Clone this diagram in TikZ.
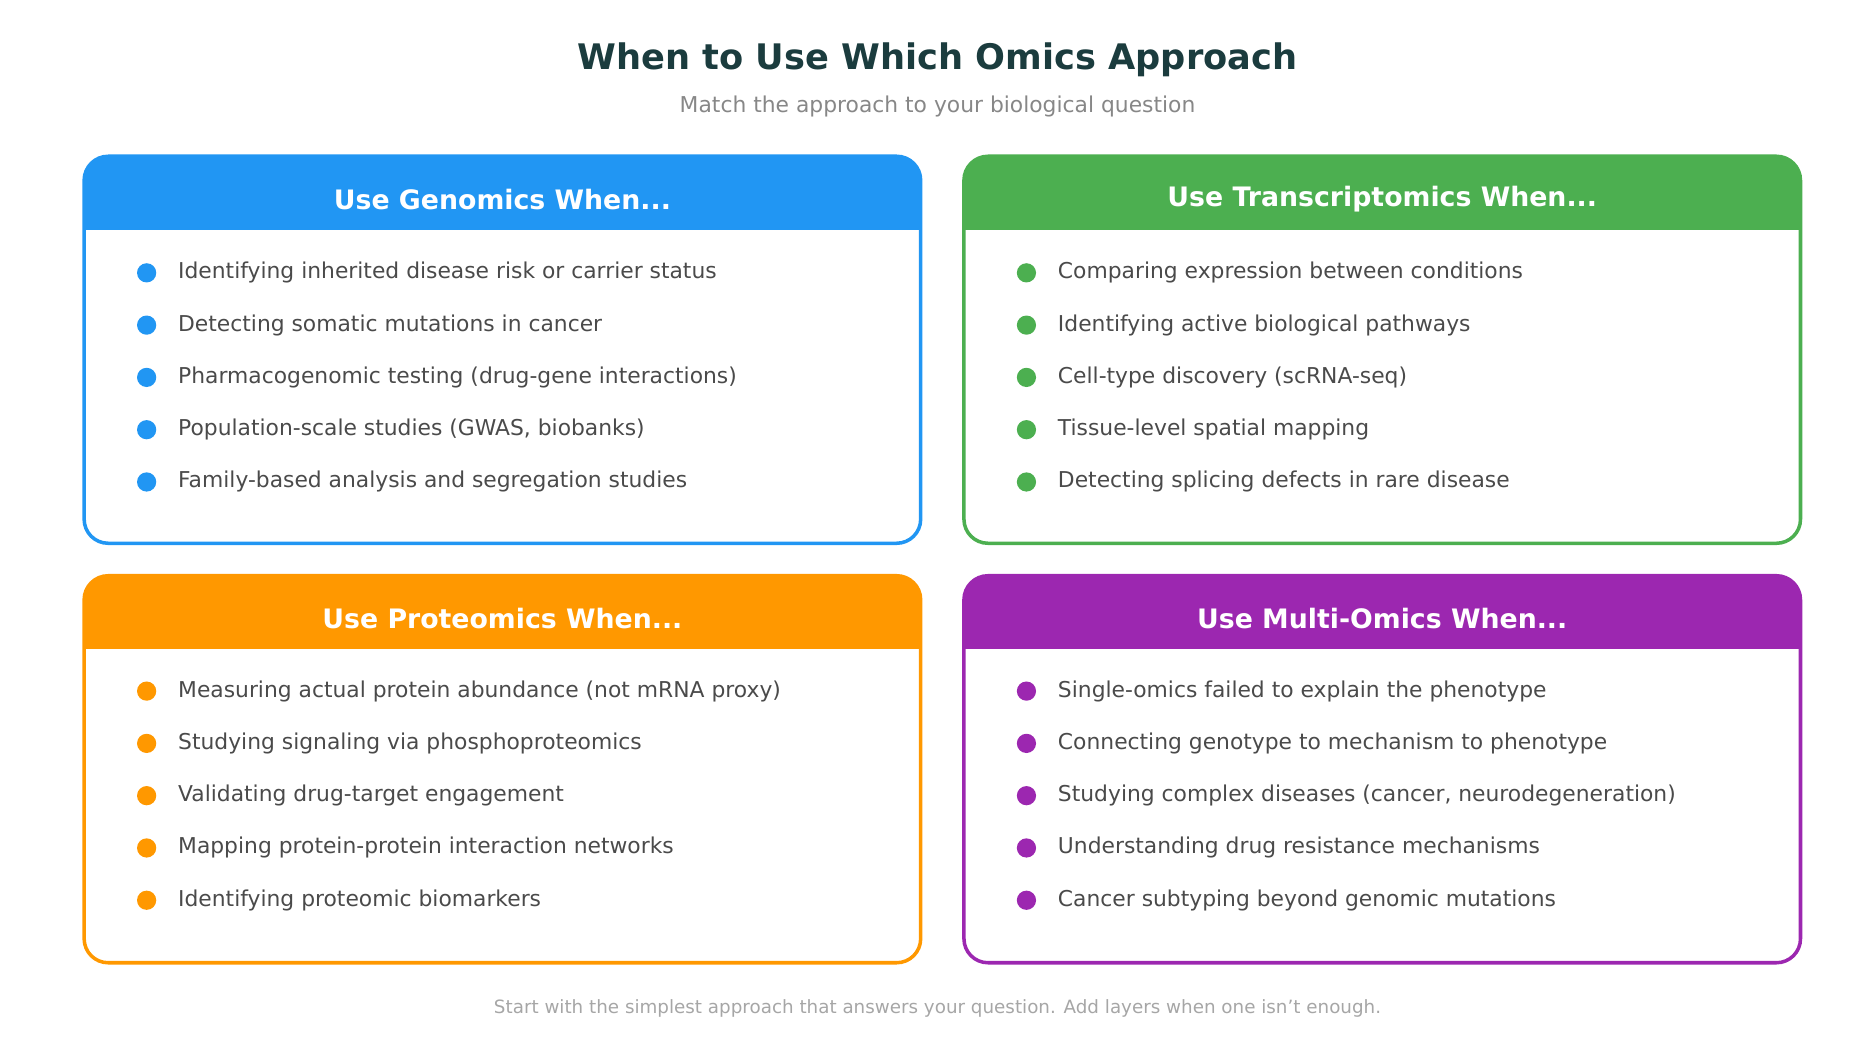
\documentclass[tikz,border=0pt]{standalone}
\usepackage{fontspec}
\setmainfont{DejaVu Sans}
\definecolor{cgen}{HTML}{2196F3}
\definecolor{ctra}{HTML}{4CAF50}
\definecolor{cpro}{HTML}{FF9800}
\definecolor{cmul}{HTML}{9C27B0}
\definecolor{ctitle}{HTML}{1B3C3E}
\definecolor{ctext}{HTML}{4A4A4A}
\tikzset{
  head/.style={text=white, font=\fontsize{19}{22}\selectfont\bfseries},
  item/.style={anchor=west, text=ctext, font=\fontsize{15.5}{18}\selectfont, inner sep=0pt},
  dot/.style={circle, inner sep=0pt, minimum size=0.48cm},
}
\begin{document}
\begin{tikzpicture}[x=0.03cm, y=-0.03cm]
    \useasboundingbox (0,0) rectangle (1560,868);
    \node at (780,50) (title) {\fontsize{25}{30}\selectfont\bfseries\color{ctitle}When to Use Which Omics Approach};
    \node at (780,89) (sub) {\fontsize{15.5}{18}\selectfont\color{black!47}Match the approach to your biological question};
    \node at (780,839) (foot) {\fontsize{13}{16}\selectfont\color{black!35}Start with the simplest approach that answers your question. Add layers when one isn't enough.};

    \foreach \x/\y/\c/\h/\n in {70/130/cgen/Genomics/gen, 802/130/ctra/Transcriptomics/tra, 70/479/cpro/Proteomics/pro, 802/479/cmul/Multi-Omics/mul} {
        \begin{scope}
            \clip[rounded corners=0.6cm] (\x,\y) rectangle (\x+696,\y+322);
            \fill[\c] (\x,\y) rectangle (\x+696,\y+61);
        \end{scope}
        \draw[\c, line width=2.5pt, rounded corners=0.6cm] (\x,\y) rectangle (\x+696,\y+322);
        \node[head] at (\x+348,\y+36) (h\n) {Use \h{} When...};
    }

    % Genomics
    \foreach \t [count=\i] in {Identifying inherited disease risk or carrier status, Detecting somatic mutations in cancer, Pharmacogenomic testing (drug-gene interactions), {Population-scale studies (GWAS, biobanks)}, Family-based analysis and segregation studies} {
        \node[dot, fill=cgen] at (122,183.5+43.5*\i) (gd\i) {};
        \node[item] at (148,183.5+43.5*\i) (gt\i) {\t};
    }
    % Transcriptomics
    \foreach \t [count=\i] in {Comparing expression between conditions, Identifying active biological pathways, Cell-type discovery (scRNA-seq), Tissue-level spatial mapping, Detecting splicing defects in rare disease} {
        \node[dot, fill=ctra] at (854,183.5+43.5*\i) (td\i) {};
        \node[item] at (880,183.5+43.5*\i) (tt\i) {\t};
    }
    % Proteomics
    \foreach \t [count=\i] in {Measuring actual protein abundance (not mRNA proxy), Studying signaling via phosphoproteomics, Validating drug-target engagement, Mapping protein-protein interaction networks, Identifying proteomic biomarkers} {
        \node[dot, fill=cpro] at (122,531.5+43.5*\i) (pd\i) {};
        \node[item] at (148,531.5+43.5*\i) (pt\i) {\t};
    }
    % Multi-omics
    \foreach \t [count=\i] in {Single-omics failed to explain the phenotype, Connecting genotype to mechanism to phenotype, {Studying complex diseases (cancer, neurodegeneration)}, Understanding drug resistance mechanisms, Cancer subtyping beyond genomic mutations} {
        \node[dot, fill=cmul] at (854,531.5+43.5*\i) (md\i) {};
        \node[item] at (880,531.5+43.5*\i) (mt\i) {\t};
    }
\end{tikzpicture}
\end{document}
